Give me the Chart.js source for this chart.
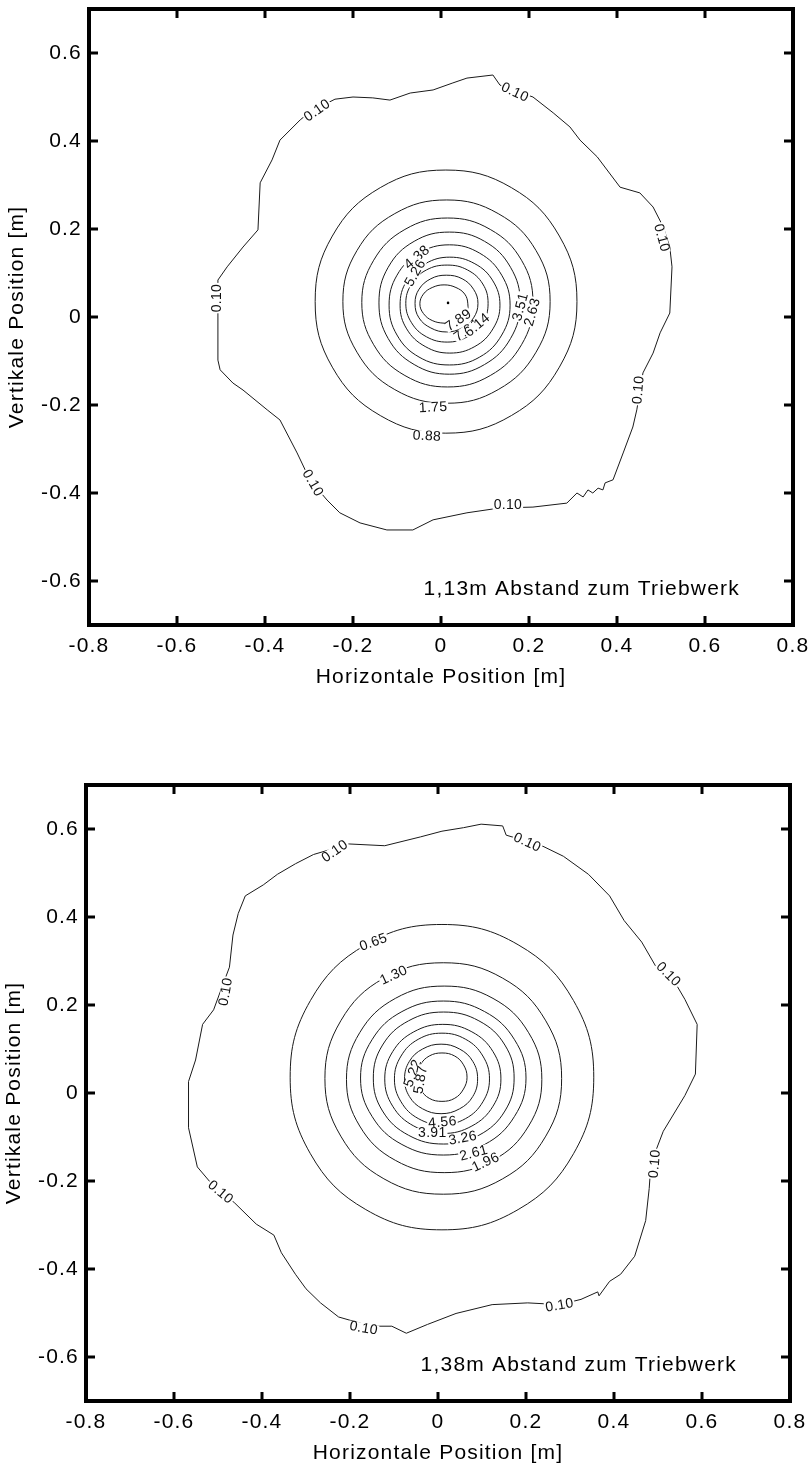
<!DOCTYPE html>
<html>
<head>
<meta charset="utf-8">
<script src="https://cdn.jsdelivr.net/npm/chart.js@4.4.1/dist/chart.umd.min.js"></script>
<style>
  html, body { margin: 0; padding: 0; background: #fff; }
  body { width: 809px; height: 1466px; position: relative; overflow: hidden; }
  .panel { position: absolute; width: 809px; height: 690px; }
  #panel1 { left: 0; top: 0; }
  #panel2 { left: -3px; top: 776px; }
</style>
</head>
<body>
<div class="panel" id="panel1"><canvas id="chart1" width="809" height="690"></canvas></div>
<div class="panel" id="panel2"><canvas id="chart2" width="809" height="690"></canvas></div>
<script>
// ---- Axes ----
const xTickValues = [-0.8, -0.6, -0.4, -0.2, 0, 0.2, 0.4, 0.6, 0.8];
const xTickLabels = ['-0.8', '-0.6', '-0.4', '-0.2', '0', '0.2', '0.4', '0.6', '0.8'];
const yTickValues = [-0.6, -0.4, -0.2, 0, 0.2, 0.4, 0.6];
const yTickLabels = ['-0.6', '-0.4', '-0.2', '0', '0.2', '0.4', '0.6'];
const xTitle = 'Horizontale Position [m]';
const yTitle = 'Vertikale Position [m]';

// ---- 1,13 m: contour lines [x, y] in metres ----
const caption113 = '1,13m Abstand zum Triebwerk';
const levels113 = ['0.10', '0.88', '1.75', '2.63', '3.51', '4.38', '5.26', '6.14', '7.01', '7.89'];
const c113_010 = [[-0.507,-0.098],[-0.507,0.084],[-0.486,0.114],[-0.450,0.159],[-0.416,0.198],[-0.411,0.305],[-0.384,0.357],[-0.366,0.402],[-0.320,0.448],[-0.298,0.466],[-0.241,0.495],[-0.200,0.500],[-0.155,0.498],[-0.116,0.493],[-0.070,0.509],[-0.018,0.516],[0.027,0.532],[0.059,0.543],[0.118,0.550],[0.134,0.527],[0.209,0.500],[0.255,0.464],[0.293,0.432],[0.316,0.402],[0.355,0.364],[0.407,0.295],[0.452,0.282],[0.482,0.250],[0.505,0.205],[0.520,0.159],[0.525,0.114],[0.520,0.009],[0.498,-0.036],[0.482,-0.082],[0.459,-0.127],[0.445,-0.211],[0.436,-0.250],[0.414,-0.309],[0.391,-0.370],[0.373,-0.377],[0.368,-0.393],[0.357,-0.389],[0.345,-0.400],[0.334,-0.393],[0.323,-0.409],[0.309,-0.400],[0.286,-0.423],[0.209,-0.432],[0.134,-0.434],[0.059,-0.445],[-0.018,-0.461],[-0.064,-0.484],[-0.123,-0.484],[-0.184,-0.468],[-0.230,-0.445],[-0.259,-0.416],[-0.298,-0.370],[-0.327,-0.309],[-0.366,-0.234],[-0.395,-0.211],[-0.450,-0.166],[-0.473,-0.150],[-0.502,-0.120]];
const c113_088 = [[0.309,0.035],[0.269,0.184],[0.160,0.294],[0.011,0.334],[-0.138,0.294],[-0.247,0.184],[-0.286,0.035],[-0.247,-0.114],[-0.138,-0.224],[0.011,-0.264],[0.160,-0.224],[0.269,-0.114]];
const c113_175 = [[0.248,0.035],[0.216,0.151],[0.130,0.235],[0.013,0.266],[-0.105,0.235],[-0.191,0.151],[-0.223,0.035],[-0.191,-0.080],[-0.105,-0.165],[0.013,-0.196],[0.130,-0.165],[0.216,-0.080]];
const c113_263 = [[0.209,0.033],[0.183,0.129],[0.112,0.199],[0.015,0.225],[-0.082,0.199],[-0.153,0.129],[-0.180,0.033],[-0.153,-0.063],[-0.082,-0.133],[0.015,-0.159],[0.112,-0.133],[0.183,-0.063]];
const c113_351 = [[0.180,0.032],[0.158,0.113],[0.099,0.172],[0.019,0.193],[-0.061,0.172],[-0.120,0.113],[-0.141,0.032],[-0.120,-0.049],[-0.061,-0.108],[0.019,-0.130],[0.099,-0.108],[0.158,-0.049]];
const c113_438 = [[0.157,0.027],[0.138,0.095],[0.088,0.145],[0.019,0.164],[-0.050,0.145],[-0.100,0.095],[-0.118,0.027],[-0.100,-0.041],[-0.050,-0.091],[0.019,-0.109],[0.088,-0.091],[0.138,-0.041]];
const c113_526 = [[0.134,0.027],[0.118,0.082],[0.077,0.121],[0.020,0.136],[-0.036,0.121],[-0.078,0.082],[-0.093,0.027],[-0.078,-0.027],[-0.036,-0.067],[0.020,-0.082],[0.077,-0.067],[0.118,-0.027]];
const c113_614 = [[0.107,0.031],[0.095,0.075],[0.060,0.107],[0.014,0.118],[-0.033,0.107],[-0.067,0.075],[-0.080,0.031],[-0.067,-0.013],[-0.033,-0.045],[0.014,-0.057],[0.060,-0.045],[0.095,-0.013]];
const c113_701 = [[0.084,0.031],[0.074,0.063],[0.048,0.087],[0.012,0.095],[-0.023,0.087],[-0.050,0.063],[-0.059,0.031],[-0.050,-0.002],[-0.023,-0.025],[0.012,-0.034],[0.048,-0.025],[0.074,-0.002]];
const c113_789 = [[0.061,0.030],[0.054,0.052],[0.034,0.067],[0.007,0.073],[-0.020,0.067],[-0.040,0.052],[-0.048,0.030],[-0.040,0.008],[-0.020,-0.008],[0.007,-0.014],[0.040,-0.012],[0.058,0.005]];
const peak113 = [[0.016, 0.032]];
const labels113 = [
  ['0.10', -0.282, 0.470, -35], ['0.10', 0.168, 0.511, 25], ['0.10', 0.502, 0.180, 75],
  ['0.10', -0.509, 0.043, -90], ['0.10', 0.448, -0.166, -85], ['0.10', 0.152, -0.427, 0],
  ['0.10', -0.291, -0.377, 60], ['0.88', -0.032, -0.270, 3], ['1.75', -0.018, -0.205, -3],
  ['2.63', 0.207, 0.011, -75], ['3.51', 0.180, 0.023, -75], ['4.38', -0.055, 0.136, -40],
  ['5.26', -0.059, 0.100, -60], ['7.89', 0.039, -0.007, -35], ['7.01', 0.059, -0.030, -35],
  ['6.14', 0.082, -0.018, -40]
];

// ---- 1,38 m: contour lines [x, y] in metres ----
const caption138 = '1,38m Abstand zum Triebwerk';
const levels138 = ['0.10', '0.65', '1.30', '1.96', '2.61', '3.26', '3.91', '4.56', '5.22', '5.87'];
const c138_010 = [[-0.567,0.026],[-0.567,-0.079],[-0.547,-0.168],[-0.519,-0.201],[-0.462,-0.250],[-0.413,-0.298],[-0.373,-0.323],[-0.356,-0.363],[-0.324,-0.412],[-0.300,-0.445],[-0.267,-0.477],[-0.226,-0.509],[-0.153,-0.530],[-0.105,-0.530],[-0.072,-0.546],[-0.024,-0.526],[0.041,-0.501],[0.123,-0.481],[0.204,-0.477],[0.277,-0.481],[0.325,-0.469],[0.363,-0.452],[0.366,-0.461],[0.390,-0.428],[0.415,-0.412],[0.447,-0.371],[0.472,-0.290],[0.480,-0.217],[0.484,-0.160],[0.512,-0.087],[0.561,-0.006],[0.585,0.043],[0.589,0.156],[0.561,0.213],[0.537,0.254],[0.496,0.286],[0.463,0.343],[0.423,0.392],[0.390,0.448],[0.342,0.497],[0.285,0.538],[0.236,0.562],[0.155,0.586],[0.147,0.607],[0.098,0.611],[0.058,0.603],[0.009,0.595],[-0.040,0.582],[-0.121,0.562],[-0.202,0.566],[-0.283,0.542],[-0.324,0.521],[-0.365,0.497],[-0.397,0.473],[-0.438,0.448],[-0.454,0.408],[-0.466,0.359],[-0.474,0.286],[-0.486,0.254],[-0.510,0.189],[-0.535,0.156],[-0.551,0.075]];
const c138_065 = [[0.354,0.036],[0.308,0.210],[0.182,0.337],[0.009,0.383],[-0.164,0.337],[-0.290,0.210],[-0.336,0.036],[-0.290,-0.138],[-0.164,-0.265],[0.009,-0.311],[0.182,-0.265],[0.308,-0.138]];
const c138_130 = [[0.281,0.033],[0.245,0.164],[0.147,0.261],[0.012,0.296],[-0.123,0.261],[-0.221,0.164],[-0.257,0.033],[-0.221,-0.098],[-0.123,-0.195],[0.012,-0.230],[0.147,-0.195],[0.245,-0.098]];
const c138_196 = [[0.236,0.031],[0.206,0.137],[0.125,0.215],[0.014,0.243],[-0.097,0.215],[-0.178,0.137],[-0.208,0.031],[-0.178,-0.075],[-0.097,-0.153],[0.014,-0.181],[0.125,-0.153],[0.206,-0.075]];
const c138_261 = [[0.200,0.034],[0.174,0.121],[0.106,0.185],[0.012,0.209],[-0.082,0.185],[-0.150,0.121],[-0.176,0.034],[-0.150,-0.053],[-0.082,-0.117],[0.012,-0.141],[0.106,-0.117],[0.174,-0.053]];
const c138_326 = [[0.173,0.034],[0.152,0.109],[0.093,0.164],[0.013,0.184],[-0.067,0.164],[-0.126,0.109],[-0.147,0.034],[-0.126,-0.041],[-0.067,-0.096],[0.013,-0.116],[0.093,-0.096],[0.152,-0.041]];
const c138_391 = [[0.143,0.032],[0.125,0.094],[0.077,0.139],[0.011,0.156],[-0.055,0.139],[-0.103,0.094],[-0.121,0.032],[-0.103,-0.030],[-0.055,-0.075],[0.011,-0.092],[0.077,-0.075],[0.125,-0.030]];
const c138_456 = [[0.117,0.032],[0.102,0.084],[0.063,0.122],[0.009,0.136],[-0.045,0.122],[-0.084,0.084],[-0.099,0.032],[-0.084,-0.020],[-0.045,-0.058],[0.009,-0.072],[0.063,-0.058],[0.102,-0.020]];
const c138_522 = [[0.090,0.032],[0.079,0.072],[0.049,0.100],[0.007,0.111],[-0.035,0.100],[-0.065,0.072],[-0.076,0.032],[-0.065,-0.008],[-0.035,-0.036],[0.007,-0.047],[0.049,-0.036],[0.079,-0.008]];
const c138_587 = [[0.066,0.036],[0.058,0.064],[0.038,0.084],[0.009,0.091],[-0.020,0.084],[-0.040,0.064],[-0.048,0.036],[-0.040,0.009],[-0.020,-0.012],[0.009,-0.019],[0.038,-0.012],[0.058,0.009]];
const labels138 = [
  ['0.10', -0.235, 0.550, -35], ['0.10', 0.203, 0.570, 25], ['0.10', 0.524, 0.270, 45],
  ['0.10', -0.483, 0.230, -80], ['0.10', -0.494, -0.225, 40], ['0.10', -0.169, -0.534, 10],
  ['0.10', 0.276, -0.482, -10], ['0.10', 0.492, -0.161, -85], ['0.65', -0.147, 0.343, -20],
  ['1.30', -0.101, 0.268, -25], ['5.22', -0.058, 0.045, -70], ['5.87', -0.040, 0.030, -80],
  ['4.56', 0.010, -0.066, -5], ['3.91', -0.013, -0.091, 0], ['3.26', 0.056, -0.102, -10],
  ['2.61', 0.081, -0.136, -15], ['1.96', 0.108, -0.157, -25]
];

const FONT = '"Liberation Sans", Arial, Helvetica, sans-serif';

// Wider letter spacing for all text drawn on a chart canvas
const spacingPlugin = {
  id: 'spacing',
  beforeUpdate(chart) { chart.ctx.letterSpacing = '1.2px'; },
  beforeDraw(chart) { chart.ctx.letterSpacing = '1.2px'; }
};

// Contour rings are closed curves: let the line element wrap around smoothly
const closedRingPlugin = {
  id: 'closedRings',
  beforeDatasetDraw(chart, args) {
    const ds = chart.data.datasets[args.index];
    const line = args.meta.dataset;
    if (!ds.closedRing || !line || typeof line.updateControlPoints !== 'function') return;
    line._loop = true;
    line._fullLoop = true;
    line._pointsUpdated = false;
    delete line._segments;
    delete line._path;
    line.updateControlPoints(chart.chartArea, 'x');
  }
};

// Heavy box with inward tick marks on all four sides
const framePlugin = {
  id: 'frame',
  afterDraw(chart) {
    const { ctx, chartArea: a, scales: { x, y } } = chart;
    ctx.save();
    ctx.strokeStyle = '#000';
    ctx.lineWidth = 3;
    const len = 9;
    xTickValues.forEach(v => {
      const px = x.getPixelForValue(v);
      if (Math.abs(px - a.left) < 2 || Math.abs(px - a.right) < 2) return;
      ctx.beginPath();
      ctx.moveTo(px, a.bottom); ctx.lineTo(px, a.bottom - len);
      ctx.moveTo(px, a.top); ctx.lineTo(px, a.top + len);
      ctx.stroke();
    });
    yTickValues.forEach(v => {
      const py = y.getPixelForValue(v);
      ctx.beginPath();
      ctx.moveTo(a.left, py); ctx.lineTo(a.left + len, py);
      ctx.moveTo(a.right, py); ctx.lineTo(a.right - len, py);
      ctx.stroke();
    });
    ctx.lineWidth = 4;
    ctx.strokeRect(a.left, a.top, a.right - a.left, a.bottom - a.top);
    ctx.restore();
  }
};

// Level values written along the contour lines, plus the caption
const contourLabelPlugin = {
  id: 'contourLabels',
  afterDatasetsDraw(chart, args, opts) {
    const { ctx, chartArea: a, scales: { x, y } } = chart;
    ctx.save();
    ctx.letterSpacing = '0.3px';
    ctx.font = '14px ' + FONT;
    ctx.textAlign = 'center';
    ctx.textBaseline = 'middle';
    for (const [text, vx, vy, ang] of opts.items) {
      const px = x.getPixelForValue(vx), py = y.getPixelForValue(vy);
      ctx.save();
      ctx.translate(px, py);
      ctx.rotate(ang * Math.PI / 180);
      const w = ctx.measureText(text).width;
      ctx.fillStyle = '#fff';
      ctx.fillRect(-w / 2 - 1, -5, w + 2, 10);
      ctx.fillStyle = '#111';
      ctx.fillText(text, 0, 0.5);
      ctx.restore();
    }
    ctx.letterSpacing = '1.2px';
    ctx.font = '21px ' + FONT;
    ctx.fillStyle = '#000';
    ctx.textAlign = 'right';
    ctx.textBaseline = 'alphabetic';
    ctx.fillText(opts.caption, a.right - 53, a.bottom - 30);
    ctx.restore();
  }
};

function toPoints(arr) {
  return arr.map(p => ({ x: p[0], y: p[1] }));
}

function makeChart(id, rings, levels, peak, labels, caption) {
  const datasets = rings.map((r, i) => ({
    label: levels[i],
    data: toPoints(r),
    closedRing: true,
    showLine: true,
    borderColor: '#1a1a1a',
    borderWidth: 1,
    pointRadius: 0,
    tension: i === 0 ? 0 : 0.4,
    fill: false
  }));
  if (peak) {
    datasets.push({ label: 'max', data: toPoints(peak), showLine: false,
      pointRadius: 1.3, pointBackgroundColor: '#000', pointBorderWidth: 0 });
  }
  const tickFont = { family: FONT, size: 21 };
  return new Chart(document.getElementById(id), {
    type: 'scatter',
    data: { datasets },
    options: {
      responsive: false,
      animation: false,
      devicePixelRatio: 1,
      layout: { padding: { left: 0, right: 16, top: 9, bottom: 0 } },
      plugins: {
        legend: { display: false },
        tooltip: { enabled: false },
        contourLabels: { items: labels, caption: caption }
      },
      scales: {
        x: {
          type: 'linear', min: -0.8, max: 0.8,
          afterBuildTicks: s => { s.ticks = xTickValues.map(v => ({ value: v })); },
          afterFit: s => { s.height = 65; s.paddingLeft = 0; s.paddingRight = 0; },
          ticks: { callback: (v, i) => xTickLabels[i], font: tickFont, color: '#000',
                   padding: 9, maxRotation: 0, autoSkip: false },
          grid: { display: false, drawTicks: false },
          border: { display: false },
          title: { display: true, text: xTitle, font: tickFont, color: '#000', padding: 0 }
        },
        y: {
          type: 'linear', min: -0.7, max: 0.7,
          afterBuildTicks: s => { s.ticks = yTickValues.map(v => ({ value: v })); },
          afterFit: s => { s.width = 89; s.paddingTop = 0; s.paddingBottom = 0; },
          ticks: { callback: (v, i) => yTickLabels[i], font: tickFont, color: '#000',
                   padding: 7, autoSkip: false },
          grid: { display: false, drawTicks: false },
          border: { display: false },
          title: { display: true, text: yTitle, font: tickFont, color: '#000',
                   padding: { top: 5, bottom: 0 } }
        }
      }
    },
    plugins: [spacingPlugin, closedRingPlugin, contourLabelPlugin, framePlugin]
  });
}

makeChart('chart1',
  [c113_010, c113_088, c113_175, c113_263, c113_351, c113_438, c113_526, c113_614, c113_701, c113_789],
  levels113, peak113, labels113, caption113);
makeChart('chart2',
  [c138_010, c138_065, c138_130, c138_196, c138_261, c138_326, c138_391, c138_456, c138_522, c138_587],
  levels138, null, labels138, caption138);
</script>
</body>
</html>
